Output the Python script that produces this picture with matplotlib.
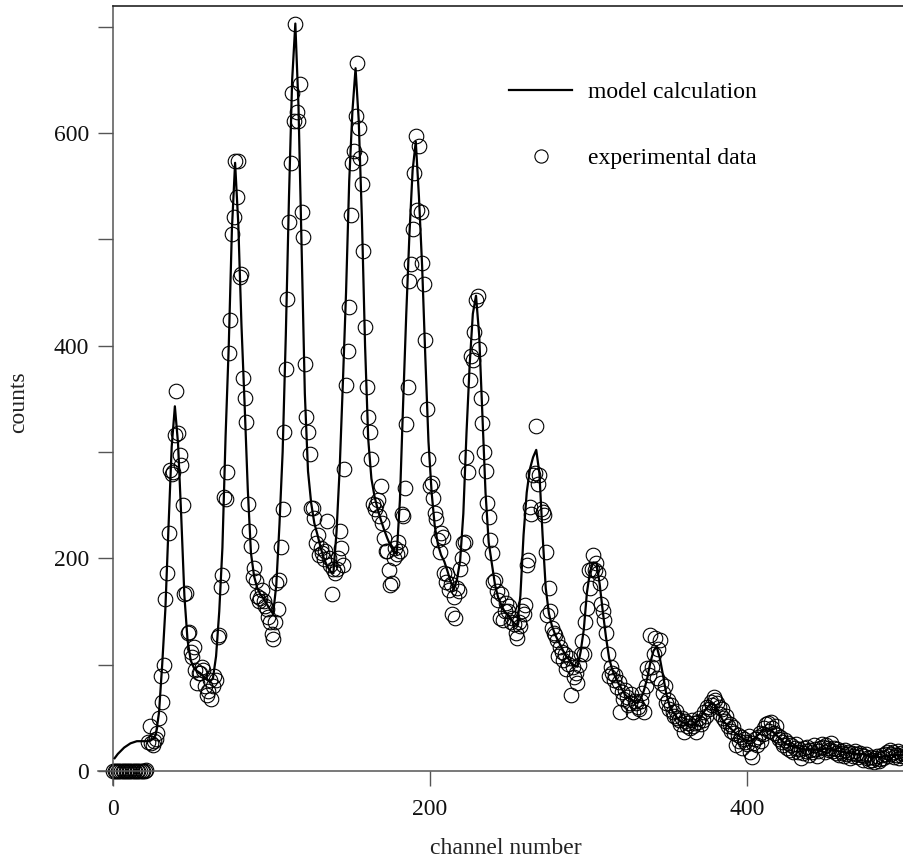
import numpy as np
import matplotlib
matplotlib.use("Agg")
import matplotlib.pyplot as plt
from matplotlib.lines import Line2D

plt.rcParams['font.family'] = ['Liberation Serif', 'DejaVu Serif']

# experimental data: counts per channel, channel 0 .. 503
counts = [
    0, 0, 0, 0, 0, 0, 0, 0, 0, 0,
    0, 0, 0, 0, 0, 0, 0, 0, 0, 0,
    0, 1, 27, 42, 26, 24, 28, 30, 36, 50,
    89, 65, 100, 162, 186, 224, 283, 279, 281, 316,
    357, 318, 297, 288, 250, 166, 167, 130, 131, 112,
    107, 117, 95, 83, 92, 92, 98, 95, 80, 71,
    75, 86, 68, 80, 89, 86, 126, 128, 173, 184,
    258, 256, 281, 393, 424, 505, 521, 574, 540, 574,
    465, 467, 370, 351, 328, 251, 226, 212, 182, 191,
    179, 165, 160, 163, 170, 160, 155, 152, 145, 140,
    129, 124, 140, 177, 152, 180, 211, 246, 319, 378,
    444, 516, 572, 638, 611, 703, 620, 611, 646, 526,
    502, 383, 333, 319, 298, 247, 247, 238, 214, 222,
    203, 210, 205, 199, 207, 235, 200, 194, 166, 190,
    186, 190, 200, 226, 210, 194, 284, 363, 395, 436,
    523, 572, 583, 616, 666, 605, 577, 552, 489, 418,
    361, 333, 319, 293, 251, 246, 250, 255, 240, 268,
    233, 219, 207, 207, 189, 175, 177, 200, 210, 204,
    215, 207, 242, 240, 266, 326, 361, 461, 477, 510,
    562, 597, 528, 588, 526, 478, 458, 405, 340, 293,
    268, 271, 257, 243, 237, 217, 206, 224, 220, 186,
    178, 185, 170, 176, 148, 164, 144, 172, 169, 190,
    200, 214, 215, 295, 281, 368, 390, 387, 413, 443,
    447, 397, 351, 327, 300, 282, 252, 239, 217, 205,
    178, 180, 169, 161, 144, 166, 142, 150, 158, 150,
    155, 140, 144, 138, 130, 125, 140, 136, 150, 148,
    156, 194, 198, 248, 242, 278, 280, 324, 270, 278,
    246, 244, 241, 206, 147, 172, 150, 134, 130, 128,
    123, 108, 117, 112, 104, 110, 96, 101, 106, 71,
    98, 88, 92, 83, 100, 110, 122, 110, 140, 153,
    189, 172, 190, 203, 189, 196, 186, 177, 157, 150,
    142, 130, 110, 89, 98, 92, 86, 90, 79, 84,
    55, 74, 68, 76, 70, 62, 64, 72, 55, 66,
    64, 60, 58, 66, 73, 55, 80, 97, 90, 128,
    98, 110, 125, 87, 115, 123, 83, 73, 80, 64,
    67, 58, 62, 55, 52, 56, 50, 48, 44, 50,
    37, 47, 42, 45, 40, 48, 42, 45, 37, 46,
    50, 44, 48, 55, 52, 60, 58, 65, 62, 70,
    67, 64, 60, 54, 58, 50, 47, 52, 42, 44,
    38, 41, 36, 24, 34, 28, 32, 22, 30, 27,
    25, 33, 18, 13, 26, 30, 24, 32, 36, 28,
    35, 40, 44, 45, 38, 46, 40, 36, 42, 34,
    30, 32, 27, 24, 29, 22, 26, 20, 24, 18,
    22, 25, 18, 21, 12, 17, 22, 19, 23, 15,
    20, 18, 24, 21, 14, 19, 22, 25, 23, 18,
    24, 22, 20, 26, 19, 22, 17, 21, 15, 19,
    17, 14, 20, 16, 18, 12, 17, 14, 19, 16,
    13, 17, 15, 10, 14, 16, 12, 9, 13, 10,
    8, 12, 14, 9, 11, 15, 12, 16, 18, 14,
    20, 16, 18, 13, 15, 19, 12, 17, 14, 16,
    13, 15, 18, 14,
]
channels = np.arange(len(counts))

# model calculation, read at odd channels 1 .. 499
model_ch = np.arange(1, 500, 2)
model_counts = [
    12, 16, 19, 22, 24, 26, 27, 28, 28, 28,
    28, 28, 30, 34, 55, 100, 152, 230, 305, 343,
    308, 240, 165, 123, 104, 97, 94, 92, 89, 86,
    84, 87, 108, 150, 210, 315, 400, 510, 572, 515,
    420, 345, 265, 205, 183, 172, 166, 162, 157, 152,
    148, 175, 232, 300, 410, 540, 650, 703, 625, 490,
    355, 282, 252, 233, 222, 210, 200, 193, 188, 186,
    225, 285, 365, 450, 555, 620, 661, 612, 520, 400,
    312, 275, 258, 246, 236, 227, 219, 212, 207, 204,
    255, 345, 430, 505, 565, 592, 540, 475, 390, 310,
    262, 230, 213, 203, 197, 188, 178, 171, 180, 198,
    242, 318, 382, 430, 447, 410, 335, 262, 215, 195,
    175, 163, 156, 150, 147, 143, 139, 137, 165, 222,
    262, 284, 295, 302, 280, 222, 172, 148, 136, 128,
    122, 116, 110, 106, 102, 99, 98, 112, 133, 168,
    188, 196, 196, 176, 150, 126, 106, 95, 88, 82,
    77, 72, 69, 67, 65, 64, 68, 76, 87, 102,
    113, 117, 106, 90, 73, 62, 56, 52, 48, 46,
    45, 44, 43, 44, 47, 51, 56, 60, 63, 63,
    58, 52, 47, 44, 41, 38, 35, 33, 31, 29,
    28, 29, 31, 34, 37, 39, 40, 39, 36, 33,
    30, 27, 25, 24, 23, 22, 21, 21, 20, 20,
    20, 20, 20, 20, 21, 21, 21, 20, 19, 18,
    18, 17, 17, 16, 16, 16, 16, 15, 14, 13,
    13, 13, 13, 14, 14, 15, 15, 15, 15, 15,
]

x_ticks = [0, 200, 400]
y_ticks = [0, 200, 400, 600]
y_minor = [100, 300, 500, 700]
labels = ['model calculation', 'experimental data']

W, H = 904, 861
fig = plt.figure(figsize=(W / 100, H / 100), dpi=100)
ax = fig.add_axes([98 / W, 1 - 785 / H, 808 / W, 779 / H])

ax.plot(channels, counts, 'o', mfc='none', mec='black', ms=10.5, mew=0.8,
        zorder=2, clip_on=True)
ax.plot(model_ch, model_counts, '-', color='black', lw=1.6, zorder=3)

ax.set_xlim(-9.5, 500.3)
ax.set_ylim(-13.2, 719.5)

for s in ['left', 'bottom']:
    ax.spines[s].set_position(('data', 0))
    ax.spines[s].set_color('#555555')
    ax.spines[s].set_linewidth(1.1)
ax.spines['right'].set_visible(False)
ax.spines['top'].set_bounds(0, 500.3)
ax.spines['top'].set_color('#222222')
ax.spines['top'].set_linewidth(1.2)

ax.set_xticks(x_ticks)
ax.set_yticks(y_ticks)
ax.set_yticks(y_minor, minor=True)
ax.tick_params(which='both', direction='out', length=10.5, width=1.0,
               color='#555555', labelsize=17, labelcolor='#111111')
ax.tick_params(axis='x', pad=9.5)
ax.tick_params(axis='y', pad=7)

ax.set_xlabel('channel number', fontsize=17, color='#222222')
ax.xaxis.set_label_coords(0.505, -0.068)
ax.set_ylabel('counts', fontsize=17, color='#222222')
ax.yaxis.set_label_coords(-0.0854, 0.4917)

handles = [Line2D([], [], color='black', lw=1.6),
           Line2D([], [], marker='o', ls='none', mfc='none', mec='black',
                  ms=9.5, mew=0.8)]
ax.legend(handles, labels, loc='upper left',
          bbox_to_anchor=(509 / W, 1 - 81.5 / H), bbox_transform=fig.transFigure,
          frameon=False, fontsize=17, handlelength=2.67, handletextpad=0.68,
          labelspacing=1.9, borderpad=0, borderaxespad=0)

fig.savefig('out.png', dpi=100)
